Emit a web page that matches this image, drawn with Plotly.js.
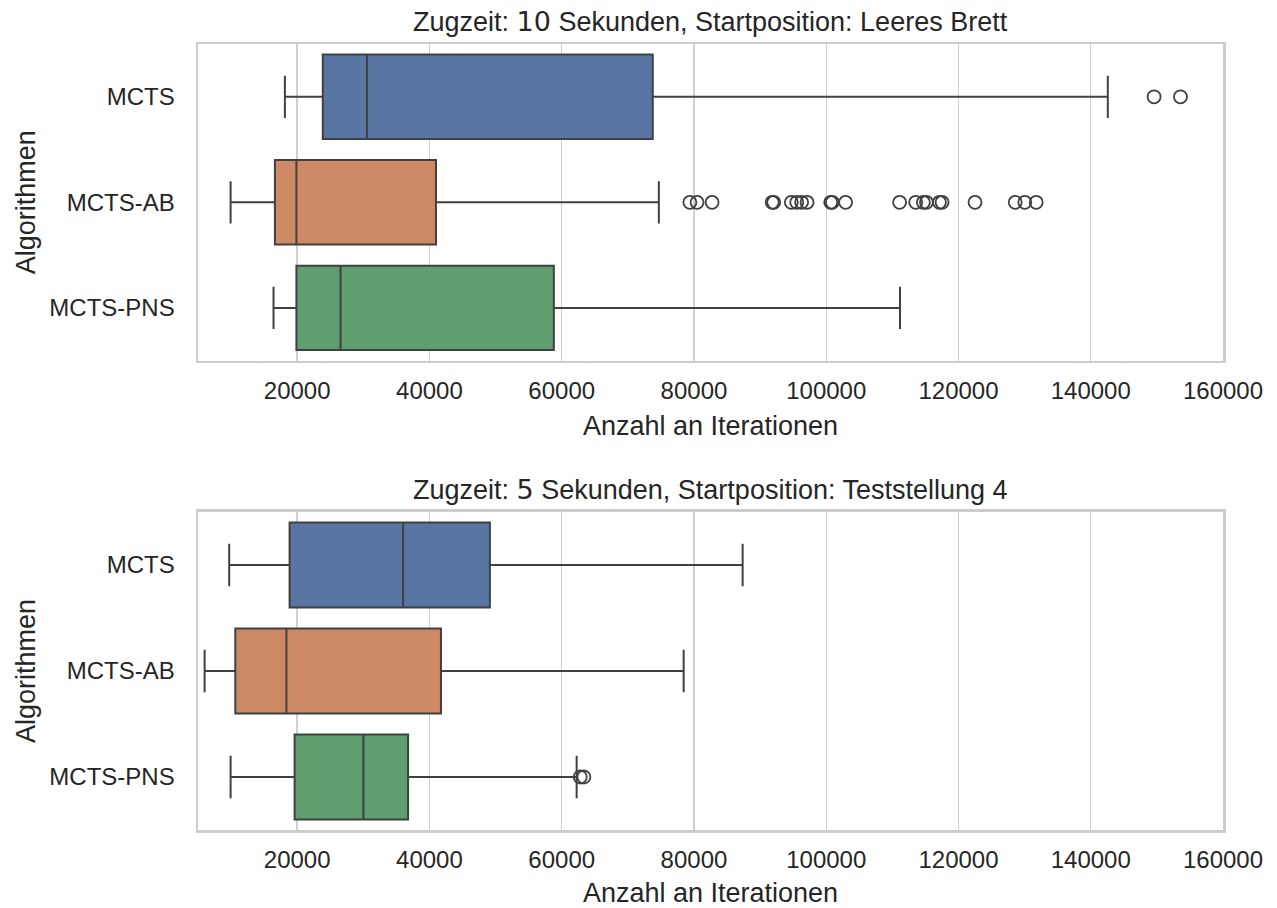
<!DOCTYPE html>
<html>
<head>
<meta charset="utf-8">
<script src="https://cdn.plot.ly/plotly-3.0.1.min.js"></script>
<style>html,body{margin:0;padding:0;background:#fff;}</style>
</head>
<body>
<div id="chart" style="width:1277px;height:908px;"></div>
<script>
// ---- Data ----
const categories = ['MCTS', 'MCTS-AB', 'MCTS-PNS'];

// Top panel: Zugzeit 10 Sekunden, Leeres Brett
const top_lower  = [18140, 9930, 16420];
const top_q1     = [23870, 16630, 19880];
const top_median = [30550, 19880, 26560];
const top_q3     = [73770, 40990, 58810];
const top_upper  = [142580, 74690, 111160];
const top_out_mcts = [149580, 153570];
const top_out_ab = [79380, 80470, 82740, 91830, 92060, 94720, 95540, 96280, 97100,
  100680, 100920, 102930, 111100, 113530, 114690, 115150, 117120, 117520, 122500,
  128580, 130030, 131750];
const top_out_pns = [];

// Bottom panel: Zugzeit 5 Sekunden, Teststellung 4
const bot_lower  = [9720, 6000, 9930];
const bot_q1     = [18850, 10640, 19610];
const bot_median = [36010, 18370, 30020];
const bot_q3     = [49140, 41740, 36770];
const bot_upper  = [87360, 78440, 62260];
const bot_out_mcts = [];
const bot_out_ab = [];
const bot_out_pns = [62800, 63350];

const xTicks = [20000, 40000, 60000, 80000, 100000, 120000, 140000, 160000];
const titleTop = 'Zugzeit: <span style="font-family:DejaVu Sans">10</span> Sekunden, Startposition: Leeres Brett';
const titleBot = 'Zugzeit: <span style="font-family:DejaVu Sans">5</span> Sekunden, Startposition: Teststellung 4';

// ---- Styles ----
const fills = ['#5875a4', '#cc8963', '#5f9e6e'];
const lineCol = '#404040';
const textCol = '#262626';
const gridCol = '#d0d0d0';
const frameCol = '#cccccc';

const traces = [];
function addPanel(lower, q1, med, q3, upper, outs, xa, ya) {
  categories.forEach((c, i) => {
    traces.push({
      type: 'box', orientation: 'h',
      y: [c], q1: [q1[i]], median: [med[i]], q3: [q3[i]],
      lowerfence: [lower[i]], upperfence: [upper[i]],
      boxpoints: false, width: 0.8, whiskerwidth: 0.5,
      fillcolor: fills[i], line: {color: lineCol, width: 2},
      xaxis: xa, yaxis: ya, showlegend: false, hoverinfo: 'x'
    });
    if (outs[i].length) {
      traces.push({
        type: 'scatter', mode: 'markers',
        x: outs[i], y: outs[i].map(() => c),
        marker: {symbol: 'circle-open', size: 13, color: lineCol, line: {width: 1.8, color: lineCol}},
        xaxis: xa, yaxis: ya, showlegend: false, hoverinfo: 'x'
      });
    }
  });
}
addPanel(top_lower, top_q1, top_median, top_q3, top_upper, [top_out_mcts, top_out_ab, top_out_pns], 'x', 'y');
addPanel(bot_lower, bot_q1, bot_median, bot_q3, bot_upper, [bot_out_mcts, bot_out_ab, bot_out_pns], 'x2', 'y2');

function xAxis(anchor) {
  return {
    anchor: anchor, domain: [0, 1], range: [5000, 160000],
    tickvals: xTicks, ticktext: xTicks.map(String),
    showgrid: true, gridcolor: gridCol, gridwidth: 1.4, zeroline: false,
    showline: true, mirror: true, linecolor: frameCol, linewidth: 2.5,
    ticks: '', ticklabelstandoff: 7,
    tickfont: {family: 'Liberation Sans, Arial, sans-serif', size: 24, color: textCol},
    title: {text: 'Anzahl an Iterationen', standoff: 13,
            font: {family: 'Liberation Sans, Arial, sans-serif', size: 27, color: textCol}},
    automargin: false
  };
}
function yAxis(anchor, dom) {
  return {
    anchor: anchor, domain: dom, type: 'category',
    categoryorder: 'array', categoryarray: categories,
    range: [2.5, -0.5],
    showgrid: false, zeroline: false,
    showline: true, mirror: true, linecolor: frameCol, linewidth: 2.5,
    ticks: '', ticklabelstandoff: 16,
    tickfont: {family: 'Liberation Sans, Arial, sans-serif', size: 24, color: textCol},
    title: {text: 'Algorithmen', standoff: 6,
            font: {family: 'Liberation Sans, Arial, sans-serif', size: 27, color: textCol}},
    automargin: false
  };
}

const topDom = [0.5971, 1];
const botDom = [0, 0.4046];

const layout = {
  width: 1277, height: 908,
  margin: {l: 198, r: 54, t: 44, b: 78, autoexpand: false},
  paper_bgcolor: '#ffffff', plot_bgcolor: '#ffffff',
  boxmode: 'overlay', showlegend: false,
  font: {family: 'Liberation Sans, Arial, sans-serif', color: textCol},
  xaxis: xAxis('y'), yaxis: yAxis('x', topDom),
  xaxis2: xAxis('y2'), yaxis2: yAxis('x2', botDom),
  annotations: [
    {text: titleTop, xref: 'paper', yref: 'paper', x: 0.5, y: topDom[1],
     xanchor: 'center', yanchor: 'bottom', yshift: 5, showarrow: false,
     font: {family: 'Liberation Sans, Arial, sans-serif', size: 27, color: textCol}},
    {text: titleBot, xref: 'paper', yref: 'paper', x: 0.5, y: botDom[1],
     xanchor: 'center', yanchor: 'bottom', yshift: 5, showarrow: false,
     font: {family: 'Liberation Sans, Arial, sans-serif', size: 27, color: textCol}}
  ]
};

Plotly.newPlot('chart', traces, layout, {displayModeBar: false, staticPlot: true});
</script>
</body>
</html>
